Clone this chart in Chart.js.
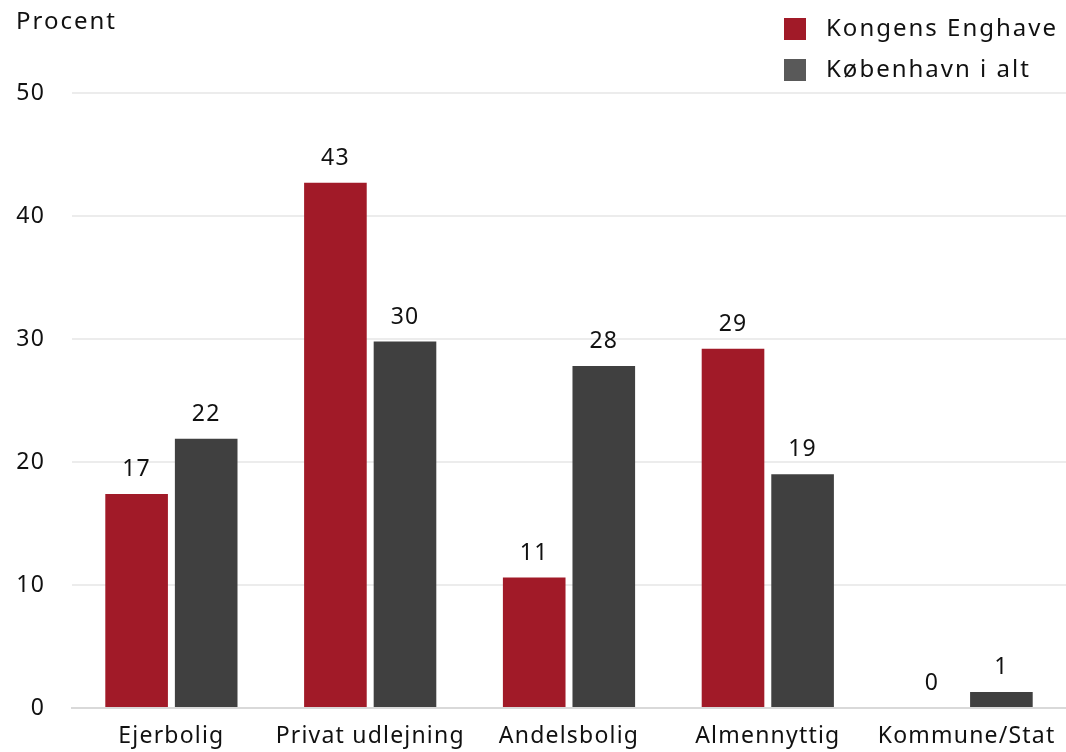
<!DOCTYPE html>
<html>
<head>
<meta charset="utf-8">
<script src="https://cdn.jsdelivr.net/npm/chart.js@4.4.1/dist/chart.umd.min.js"></script>
<style>
  html, body { margin: 0; padding: 0; background: #fff; }
  #wrap { width: 1066px; height: 752px; position: relative; }
</style>
</head>
<body>
<div id="wrap"><canvas id="chart"></canvas></div>
<script>
// Data
const kategorier = ['Ejerbolig', 'Privat udlejning', 'Andelsbolig', 'Almennyttig', 'Kommune/Stat'];
const kongensEnghave = [17.4, 42.7, 10.6, 29.2, 0];
const koebenhavn = [21.9, 29.8, 27.8, 19.0, 1.3];
const serieNavne = ['Kongens Enghave', 'København i alt'];
const yTicks = [0, 10, 20, 30, 40, 50];

const FONT = '"Noto Sans", sans-serif';
const rod = '#a11a28';
const graa = '#404040';
const graaLegend = '#595959';
const SPACING = '1.2px';

// wider letter spacing, closer to the original font
const spacing = {
  id: 'spacing',
  beforeDraw(chart) { chart.ctx.letterSpacing = SPACING; }
};

// Labels over the bars
const vaerdiLabels = {
  id: 'vaerdiLabels',
  afterDatasetsDraw(chart) {
    const ctx = chart.ctx;
    ctx.save();
    ctx.font = '23px ' + FONT;
    ctx.letterSpacing = SPACING;
    ctx.fillStyle = '#111';
    ctx.textAlign = 'center';
    ctx.textBaseline = 'bottom';
    chart.data.datasets.forEach((ds, i) => {
      chart.getDatasetMeta(i).data.forEach((bar, j) => {
        ctx.fillText(Math.round(ds.data[j]), bar.x, bar.y - 13);
      });
    });
    ctx.restore();
  }
};

// Title "Procent" and legend top right
const pynt = {
  id: 'pynt',
  afterDraw(chart) {
    const ctx = chart.ctx;
    ctx.save();
    ctx.letterSpacing = '2px';
    ctx.font = '24px ' + FONT;
    ctx.fillStyle = '#111';
    ctx.textAlign = 'left';
    ctx.textBaseline = 'middle';
    ctx.fillText('Procent', 16, 22);

    const farver = [rod, graaLegend];
    serieNavne.forEach((navn, i) => {
      const y = 29 + i * 41;
      ctx.fillStyle = farver[i];
      ctx.fillRect(784, y - 11, 22, 22);
      ctx.fillStyle = '#111';
      ctx.fillText(navn, 826, y);
    });
    ctx.restore();
  }
};

new Chart(document.getElementById('chart'), {
  type: 'bar',
  data: {
    labels: kategorier,
    datasets: [
      { label: serieNavne[0], data: kongensEnghave, backgroundColor: rod },
      { label: serieNavne[1], data: koebenhavn, backgroundColor: graa }
    ]
  },
  options: {
    responsive: true,
    maintainAspectRatio: false,
    animation: false,
    layout: { padding: { top: 93, right: 0, left: 0, bottom: 0 } },
    datasets: { bar: { categoryPercentage: 0.7, barPercentage: 0.9 } },
    plugins: { legend: { display: false }, tooltip: { enabled: false } },
    scales: {
      x: {
        grid: { display: false, drawTicks: false },
        border: { display: true, color: '#d9d9d9', width: 2 },
        ticks: { color: '#111', font: { family: FONT, size: 23 }, padding: 15, maxRotation: 0, autoSkip: false },
        afterFit(s) { s.height = 44; }
      },
      y: {
        min: 0,
        max: 50,
        afterBuildTicks(s) { s.ticks = yTicks.map(v => ({ value: v })); },
        grid: { color: '#ececec', lineWidth: 2, drawTicks: false },
        border: { display: false },
        ticks: { color: '#111', font: { family: FONT, size: 23 }, padding: 27 },
        afterFit(s) { s.width = 72; }
      }
    }
  },
  plugins: [spacing, vaerdiLabels, pynt]
});
</script>
</body>
</html>
